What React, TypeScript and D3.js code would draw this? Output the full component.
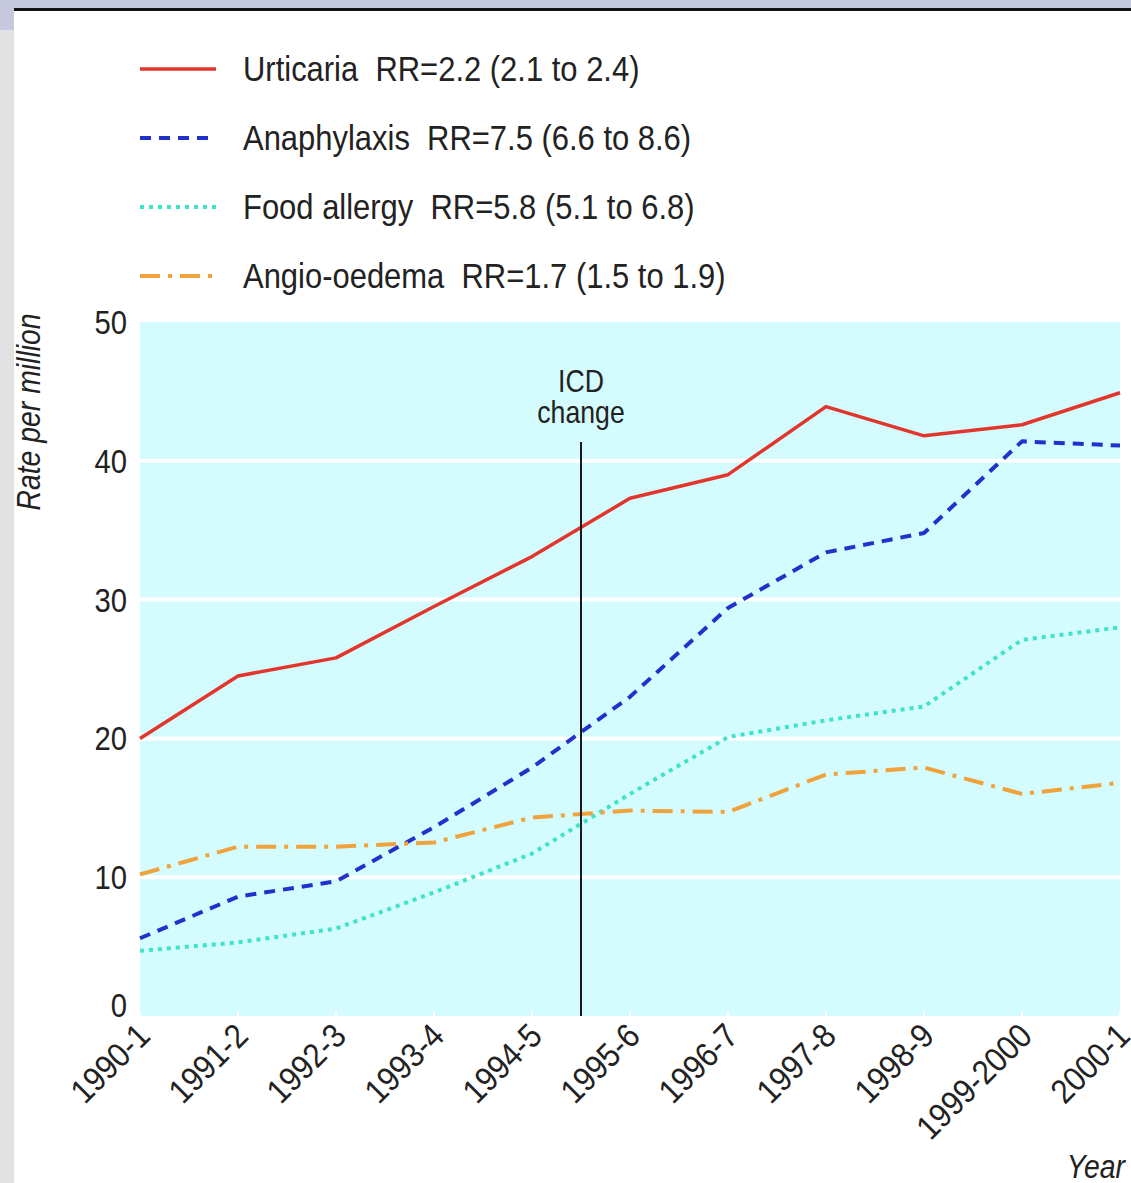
import React from 'react';
import * as d3 from 'd3';

const WIDTH = 1131;
const HEIGHT = 1183;
const margin = { l: 140, r: 11, t: 322, b: 167 };

const years = [
  '1990-1', '1991-2', '1992-3', '1993-4', '1994-5', '1995-6',
  '1996-7', '1997-8', '1998-9', '1999-2000', '2000-1',
];
const urticaria = [20.0, 24.5, 25.8, 29.5, 33.1, 37.3, 39.0, 43.9, 41.8, 42.6, 44.9];
const anaphylaxis = [5.6, 8.6, 9.7, 13.6, 17.9, 23.0, 29.4, 33.4, 34.8, 41.4, 41.1];
const foodAllergy = [4.7, 5.3, 6.3, 8.9, 11.7, 16.0, 20.1, 21.3, 22.3, 27.1, 28.0];
const angioOedema = [10.2, 12.2, 12.2, 12.5, 14.3, 14.8, 14.7, 17.4, 17.9, 16.0, 16.8];
const yTicks = [0, 10, 20, 30, 40, 50];
const legendLabels = [
  'Urticaria  RR=2.2 (2.1 to 2.4)',
  'Anaphylaxis  RR=7.5 (6.6 to 8.6)',
  'Food allergy  RR=5.8 (5.1 to 6.8)',
  'Angio-oedema  RR=1.7 (1.5 to 1.9)',
];

// ICD coding changed between 1994-5 and 1995-6
const ICD_AT = 4.5;

const FONT = '"Liberation Sans", Arial, sans-serif';
// the original uses a condensed face, so squeeze the text sideways
const NARROW = 0.86;

const series = [
  { values: urticaria, color: '#e2352b', dash: undefined, width: 3.5 },
  { values: anaphylaxis, color: '#2230cc', dash: '11 8', width: 4 },
  { values: foodAllergy, color: '#3fe3c9', dash: '4 5', width: 4 },
  { values: angioOedema, color: '#f0a23c', dash: '20 8 4 8', width: 4 },
];

const App = () => {
  const w = WIDTH - margin.l - margin.r;
  const h = HEIGHT - margin.t - margin.b;

  const xScale = d3.scaleLinear().domain([0, years.length - 1]).range([0, w]);
  const yScale = d3.scaleLinear().domain([0, 50]).range([h, 0]);

  const line = d3
    .line<number>()
    .x((d, i) => xScale(i))
    .y((d) => yScale(d));

  return (
    <svg
      width={WIDTH}
      height={HEIGHT}
      style={{ position: 'absolute', left: 0, top: 0, fontFamily: FONT }}
    >
      {/* page frame */}
      <rect x={0} y={0} width={WIDTH} height={HEIGHT} fill="#e2e2e4" />
      <rect x={0} y={0} width={WIDTH} height={9} fill="#c6c9dd" />
      <rect x={0} y={0} width={14} height={30} fill="#c6c9dd" />
      <rect x={14} y={9} width={WIDTH - 14} height={HEIGHT - 9} fill="#ffffff" />
      <rect x={14} y={8} width={WIDTH - 14} height={3} fill="#111" />

      {/* legend */}
      {series.map((s, i) => (
        <g key={i} transform={`translate(140, ${69 + i * 69})`}>
          <line
            x1={0}
            x2={76}
            y1={0}
            y2={0}
            stroke={s.color}
            strokeWidth={s.width}
            strokeDasharray={s.dash}
          />
          <g transform={`translate(103, 12) scale(${NARROW}, 1)`}>
            <text fontSize={36} fill="#222" style={{ whiteSpace: 'pre' }}>
              {legendLabels[i]}
            </text>
          </g>
        </g>
      ))}

      <g transform={`translate(40, 412) rotate(-90) scale(${NARROW}, 1)`}>
        <text textAnchor="middle" fontSize={33} fontStyle="italic" fill="#222">
          Rate per million
        </text>
      </g>

      <g transform={`translate(${margin.l}, ${margin.t})`}>
        <rect x={0} y={0} width={w} height={h} fill="#d4fbfd" />
        {yTicks.slice(1, -1).map((t) => (
          <line key={t} x1={0} x2={w} y1={yScale(t)} y2={yScale(t)} stroke="#fff" strokeWidth={4} />
        ))}
        {years.map((y, i) => (
          <line key={y} x1={xScale(i)} x2={xScale(i)} y1={h - 5} y2={h} stroke="#fff" strokeWidth={2} />
        ))}

        {yTicks.map((t) => (
          <g key={t} transform={`translate(-13, ${yScale(t) + (t === 0 ? 1 : 12)}) scale(${NARROW}, 1)`}>
            <text textAnchor="end" fontSize={34} fill="#222">
              {t}
            </text>
          </g>
        ))}

        {years.map((y, i) => (
          <g
            key={y}
            transform={`translate(${xScale(i) + 12}, ${h + 22}) rotate(-45) scale(0.9, 1)`}
          >
            <text textAnchor="end" fontSize={34} fill="#222">
              {y}
            </text>
          </g>
        ))}

        {series.map((s, i) => (
          <path
            key={i}
            d={line(s.values) || ''}
            fill="none"
            stroke={s.color}
            strokeWidth={s.width}
            strokeDasharray={s.dash}
            strokeLinejoin="round"
          />
        ))}

        <line
          x1={xScale(ICD_AT)}
          x2={xScale(ICD_AT)}
          y1={120}
          y2={h}
          stroke="#1a1a1a"
          strokeWidth={2}
        />
        <g transform={`translate(${xScale(ICD_AT)}, 70) scale(${NARROW}, 1)`}>
          <text textAnchor="middle" fontSize={31} fill="#222">
            ICD
          </text>
        </g>
        <g transform={`translate(${xScale(ICD_AT)}, 101) scale(${NARROW}, 1)`}>
          <text textAnchor="middle" fontSize={31} fill="#222">
            change
          </text>
        </g>
      </g>

      <g transform={`translate(1125, 1178) scale(${NARROW}, 1)`}>
        <text textAnchor="end" fontSize={33} fontStyle="italic" fill="#222">
          Year
        </text>
      </g>
    </svg>
  );
};

export default App;
